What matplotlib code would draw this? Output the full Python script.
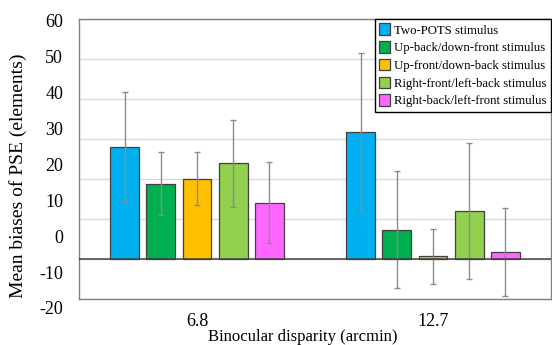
import numpy as np
import matplotlib.pyplot as plt
from matplotlib.patches import Patch

plt.rcParams['font.family'] = ['Liberation Serif', 'DejaVu Serif']

# data
categories = ['6.8', '12.7']
series_names = ['Two-POTS stimulus', 'Up-back/down-front stimulus',
                'Up-front/down-back stimulus', 'Right-front/left-back stimulus',
                'Right-back/left-front stimulus']
two_pots = [28.0, 31.8]
up_back = [18.8, 7.3]
up_front = [20.1, 0.7]
right_front = [23.9, 11.9]
right_back = [14.1, 1.7]
two_pots_err = [13.8, 19.7]
up_back_err = [7.9, 14.6]
up_front_err = [6.6, 6.9]
right_front_err = [10.8, 17.0]
right_back_err = [10.1, 11.0]
y_tick_values = [60, 50, 40, 30, 20, 10, 0, -10, -20]

means = [two_pots, up_back, up_front, right_front, right_back]
errs = [two_pots_err, up_back_err, up_front_err, right_front_err, right_back_err]
colors = ['#00B0F0', '#00B050', '#FFC000', '#92D050', '#FF66FF']

W, H = 552, 345
fig = plt.figure(figsize=(W / 100, H / 100), dpi=100)
ax = fig.add_axes([79 / W, 1 - 299 / H, 472 / W, 280 / H])

x = np.arange(len(categories))
step, width = 0.1536, 0.1227
for i, (m, e, c) in enumerate(zip(means, errs, colors)):
    ax.bar(x + (i - 2) * step, m, width, color=c, edgecolor='#404040',
           linewidth=0.9, zorder=3)
    ax.errorbar(x + (i - 2) * step, m, yerr=e, fmt='none', ecolor='#8C8C8C',
                elinewidth=1.0, capsize=2, capthick=1.0, zorder=4)

ax.axhline(0, color='#404040', linewidth=1.1, zorder=5)
ax.set_xlim(-0.5, 1.5)
ax.set_ylim(-10, 60)
ax.set_yticks(np.arange(-10, 61, 10))
ax.set_yticklabels([])
ax.grid(axis='y', color='#D9D9D9', linewidth=0.9, zorder=0)
ax.tick_params(axis='y', length=0)
ax.set_xticks(x)
ax.set_xticklabels(categories, fontsize=13)
ax.tick_params(axis='x', length=0, pad=10)
for s in ax.spines.values():
    s.set_color('#808080')
    s.set_linewidth(1.0)

ax.set_xlabel('Binocular disparity (arcmin)', fontsize=12)
ax.xaxis.set_label_coords(0.4746, -0.108)

# y tick labels sit on their own (offset) scale in the reference
lab_ax = fig.add_axes([79 / W, 1 - 308 / H, 0.0001, 287.5 / H])
lab_ax.set_ylim(-20, 60)
lab_ax.set_yticks(y_tick_values)
lab_ax.set_yticklabels([str(v) for v in y_tick_values], fontsize=13)
lab_ax.tick_params(axis='y', length=0, pad=11.5)
lab_ax.set_xticks([])
lab_ax.patch.set_visible(False)
for s in lab_ax.spines.values():
    s.set_visible(False)

fig.text(18 / W, 0.49, 'Mean biases of PSE (elements)', rotation=90,
         ha='center', va='center', fontsize=14)

handles = [Patch(facecolor=c, edgecolor='#404040', linewidth=0.9) for c in colors]
leg = ax.legend(handles, series_names, loc='upper right', bbox_to_anchor=(1.0, 1.0),
                borderaxespad=0, fontsize=9.2, handlelength=0.8, handleheight=1.0,
                handletextpad=0.35, labelspacing=0.36, borderpad=0.35,
                fancybox=False, framealpha=1, edgecolor='black')
leg.get_frame().set_linewidth(1.0)
leg.set_zorder(10)

fig.savefig('out.png', dpi=100)
